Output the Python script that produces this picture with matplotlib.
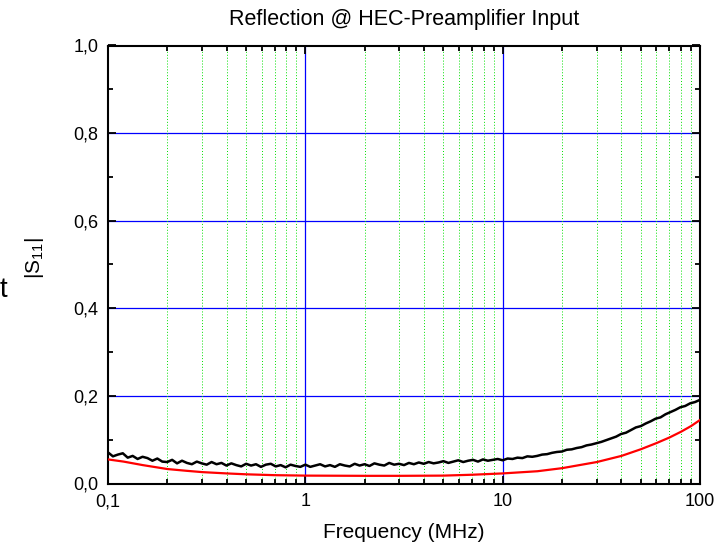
# Reflection |S11| at the HEC preamplifier input
import numpy as np
import matplotlib
matplotlib.use("Agg")
import matplotlib.pyplot as plt
from matplotlib.ticker import FixedLocator, LogLocator, NullFormatter, MultipleLocator, FuncFormatter

plt.rcParams["font.family"] = ["Liberation Sans", "DejaVu Sans"]
plt.rcParams["mathtext.fontset"] = "custom"
plt.rcParams["mathtext.rm"] = "Liberation Sans"

# Measured |S11| (black), 40 points per decade from 0.1 to 100 MHz
measLogFreq = np.linspace(-1, 2, 121)
measS11 = [
    0.071, 0.062, 0.066, 0.069, 0.059, 0.063, 0.056, 0.061, 0.058, 0.052,
    0.057, 0.050, 0.049, 0.054, 0.046, 0.052, 0.047, 0.044, 0.050, 0.046,
    0.043, 0.049, 0.044, 0.047, 0.041, 0.046, 0.042, 0.039, 0.045, 0.041,
    0.044, 0.038, 0.043, 0.045, 0.039, 0.042, 0.037, 0.043, 0.040, 0.038,
    0.043, 0.038, 0.041, 0.044, 0.039, 0.042, 0.038, 0.044, 0.041, 0.039,
    0.045, 0.041, 0.044, 0.040, 0.046, 0.043, 0.041, 0.047, 0.043, 0.045,
    0.042, 0.047, 0.044, 0.048, 0.045, 0.049, 0.046, 0.048, 0.051, 0.047,
    0.050, 0.053, 0.049, 0.052, 0.054, 0.050, 0.055, 0.052, 0.054, 0.056,
    0.053, 0.057, 0.056, 0.059, 0.058, 0.062, 0.061, 0.063, 0.066, 0.067,
    0.070, 0.072, 0.073, 0.077, 0.078, 0.081, 0.083, 0.087, 0.089, 0.092,
    0.095, 0.099, 0.103, 0.107, 0.113, 0.116, 0.122, 0.128, 0.131, 0.137,
    0.142, 0.148, 0.151, 0.158, 0.163, 0.168, 0.174, 0.177, 0.183, 0.186,
    0.191,
]

# Model |S11| (red)
modelFreq = [0.1, 0.12, 0.15, 0.2, 0.25, 0.3, 0.4, 0.5, 0.7, 1, 2, 3, 5, 7,
             10, 15, 20, 30, 40, 50, 60, 70, 80, 90, 100]
modelS11 = [0.055, 0.050, 0.042, 0.033, 0.029, 0.026, 0.023, 0.021, 0.019, 0.018,
            0.0175, 0.0175, 0.018, 0.020, 0.023, 0.028, 0.035, 0.049, 0.063,
            0.078, 0.092, 0.105, 0.118, 0.131, 0.145]

xTicks = [0.1, 1, 10, 100]
xTickLabels = ["0,1", "1", "10", "100"]

fig = plt.figure(figsize=(7.24, 5.49), dpi=100)
ax = fig.add_axes([108/724, 1-483.5/549, 592/724, 438/549])

ax.set_xscale("log")
ax.set_xlim(0.1, 100)
ax.set_ylim(0, 1.0)

# Grid: blue major lines, green dotted minor verticals
for y in [0.2, 0.4, 0.6, 0.8]:
    ax.axhline(y, color="#0000ff", lw=0.9, zorder=1)
for x in [1, 10]:
    ax.axvline(x, color="#0000ff", lw=0.9, zorder=1)
minorX = [m*10.0**e for e in [-1, 0, 1] for m in range(2, 10)]
for x in minorX:
    ax.axvline(x, color="#00e000", lw=0.7, ls=(0, (1, 2)), zorder=1)

ax.plot(10**measLogFreq, measS11, color="black", lw=1.8, zorder=3)
ax.plot(modelFreq, modelS11, color="#ff0000", lw=1.6, zorder=3)

# Ticks
ax.xaxis.set_major_locator(FixedLocator(xTicks))
ax.set_xticklabels(xTickLabels)
ax.xaxis.set_minor_locator(LogLocator(base=10, subs=range(2, 10)))
ax.xaxis.set_minor_formatter(NullFormatter())
ax.yaxis.set_major_locator(MultipleLocator(0.2))
ax.yaxis.set_minor_locator(MultipleLocator(0.1))
ax.yaxis.set_major_formatter(FuncFormatter(lambda v, p: "{:.1f}".format(v).replace(".", ",")))
ax.tick_params(which="both", direction="in", top=True, right=True, width=1.3, labelsize=13)
ax.tick_params(which="major", length=6, pad=7)
ax.tick_params(which="minor", length=3.5)
for s in ax.spines.values():
    s.set_linewidth(1.5)

ax.set_title("Reflection @ HEC-Preamplifier Input", fontsize=15.5, pad=15)
ax.set_xlabel("Frequency (MHz)", fontsize=15, labelpad=9)
fig.text(35/724, 1-258/549, r"$\mathregular{|S_{11}|}$", rotation=90, fontsize=15,
         ha="center", va="center")
fig.text(7/724, 1-290/549, "t", fontsize=20, ha="right", va="center")

fig.savefig("out.png", dpi=100)
